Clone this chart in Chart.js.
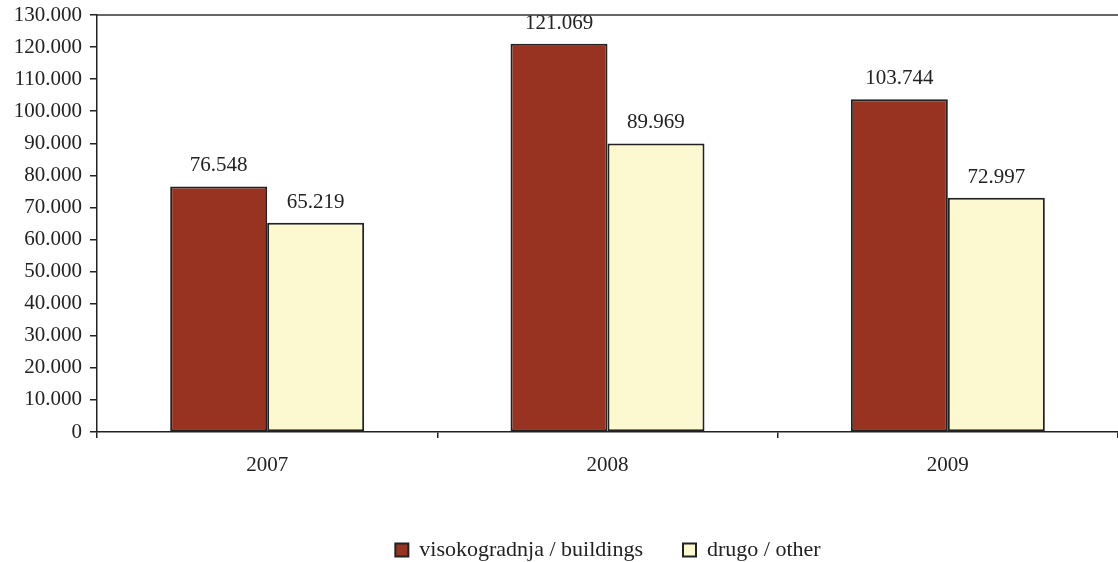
<!DOCTYPE html>
<html>
<head>
<meta charset="utf-8">
<script src="https://cdn.jsdelivr.net/npm/chart.js@4"></script>
<style>
  html, body { margin: 0; padding: 0; background: #fff; }
  #wrap { width: 1118px; height: 562px; }
</style>
</head>
<body>
<div id="wrap"><canvas id="myChart"></canvas></div>
<script>
// Data
const years = ['2007', '2008', '2009'];
const buildings = [76548, 121069, 103744];
const other = [65219, 89969, 72997];
const seriesNames = ['visokogradnja / buildings', 'drugo / other'];

const fontFamily = "'Liberation Serif', 'Times New Roman', serif";
const textColor = '#222';

// 130000 -> "130.000"
function fmt(v) {
    return String(Math.round(v)).replace(/\B(?=(\d{3})+(?!\d))/g, '.');
}

// value labels above bars + top border of plot area
const barLabels = {
    id: 'barLabels',
    afterLayout(chart) {
        // legend in the original sits a bit right of centre and lower
        const lg = chart.legend;
        lg.left += 49; lg.right += 49;
        lg.top += 9; lg.bottom += 9;
    },
    afterDatasetsDraw(chart) {
        const c = chart.ctx;
        c.save();
        c.font = '21px ' + fontFamily;
        c.fillStyle = textColor;
        c.textAlign = 'center';
        c.textBaseline = 'bottom';
        chart.data.datasets.forEach((ds, i) => {
            chart.getDatasetMeta(i).data.forEach((bar, j) => {
                c.fillText(fmt(ds.data[j]), bar.x, bar.y - 10);
            });
        });
        const a = chart.chartArea;
        c.strokeStyle = '#333';
        c.lineWidth = 1.5;
        c.beginPath();
        c.moveTo(a.left, a.top);
        c.lineTo(a.right, a.top);
        c.stroke();
        c.restore();
    }
};

const ctx = document.getElementById('myChart').getContext('2d');

const data = {
    labels: years,
    datasets: [
        {
            label: seriesNames[0],
            data: buildings,
            backgroundColor: '#983321',
            borderColor: '#222',
            borderWidth: 2,
            borderSkipped: false
        },
        {
            label: seriesNames[1],
            data: other,
            backgroundColor: '#fcf8cf',
            borderColor: '#222',
            borderWidth: 2,
            borderSkipped: false
        }
    ]
};

const config = {
    type: 'bar',
    data: data,
    plugins: [barLabels],
    options: {
        responsive: true,
        maintainAspectRatio: false,
        animation: false,
        layout: { padding: { top: 15, right: 0, left: 0, bottom: 0 } },
        datasets: {
            bar: { categoryPercentage: 0.57, barPercentage: 1.0 }
        },
        scales: {
            y: {
                min: 0,
                max: 130000,
                afterFit(scale) { scale.width = 97; scale.paddingTop = 0; },
                border: { color: '#222', width: 1.5 },
                grid: { drawOnChartArea: false, tickLength: 7, color: '#222', lineWidth: 1.5 },
                ticks: {
                    stepSize: 10000,
                    padding: 8,
                    color: textColor,
                    font: { size: 21, family: fontFamily },
                    callback: (v) => fmt(v)
                }
            },
            x: {
                afterFit(scale) { scale.height = 58; },
                border: { color: '#222', width: 1.5 },
                grid: { drawOnChartArea: false, tickLength: 6, color: '#222', lineWidth: 1.5, offset: true },
                ticks: {
                    padding: 15,
                    color: textColor,
                    font: { size: 21, family: fontFamily }
                }
            }
        },
        plugins: {
            legend: {
                position: 'bottom',
                labels: {
                    color: textColor,
                    boxWidth: 13,
                    boxHeight: 13,
                    padding: 40,
                    font: { size: 22, family: fontFamily }
                }
            },
            tooltip: { enabled: false }
        }
    }
};

const myChart = new Chart(ctx, config);
</script>
</body>
</html>
